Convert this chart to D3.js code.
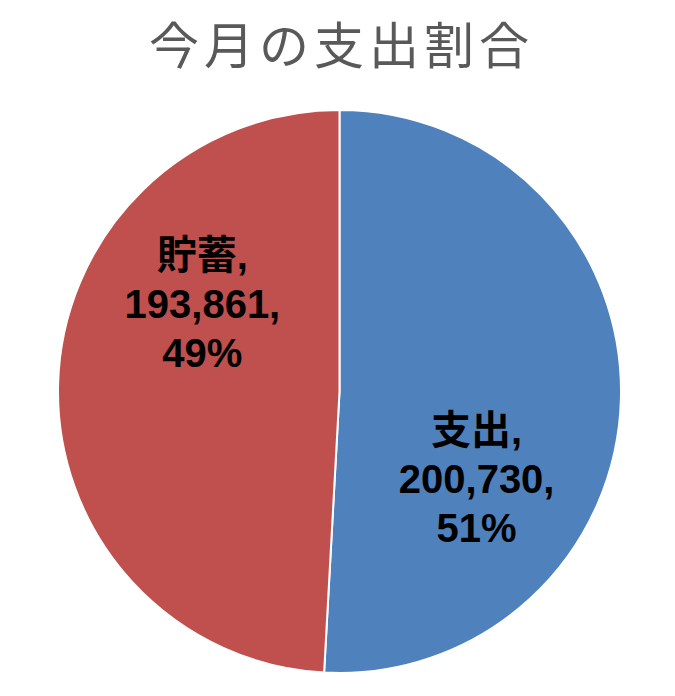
<!DOCTYPE html>
<html>
<head>
<meta charset="utf-8">
<script src="https://cdn.jsdelivr.net/npm/d3@7"></script>
<style>
  body { margin: 0; background: #fff; }
</style>
</head>
<body>
<div id="canvas"></div>
<script>
// chart data
var categories = ["支出", "貯蓄"];
var amounts = [200730, 193861];
var colors = ["#4F81BD", "#C0504D"];
var title = "今月の支出割合";

var width = 675, height = 696;
var cx = 339.5, cy = 391.5, radius = 281.5;

var svg = d3.select("#canvas").append("svg")
    .attr("width", width)
    .attr("height", height);

svg.append("text")
    .attr("x", cx + 2)
    .attr("y", 42)
    .attr("text-anchor", "middle")
    .attr("dominant-baseline", "central")
    .style("font-family", "'Noto Sans CJK JP', sans-serif")
    .style("font-size", "50px")
    .style("letter-spacing", "5px")
    .style("fill", "#595959")
    .text(title);

var data = categories.map(function(c, i) { return {name: c, value: amounts[i], color: colors[i]}; });
var total = d3.sum(amounts);

var pie = d3.pie()
    .sort(null)
    .value(function(d) { return d.value; });

var arc = d3.arc()
    .innerRadius(0)
    .outerRadius(radius);

var g = svg.append("g")
    .attr("transform", "translate(" + cx + "," + cy + ")");

var arcs = pie(data);

g.selectAll("path")
    .data(arcs)
  .enter().append("path")
    .attr("d", arc)
    .attr("fill", function(d) { return d.data.color; })
    .attr("stroke", "#fff")
    .attr("stroke-width", 2);

// labels sit a bit past the slice middle (excel "best fit")
var labelShift = 31 * Math.PI / 180,
    labelRadius = radius * 0.578,
    lineGap = 49;
var fmtNum = d3.format(","), fmtPct = d3.format(".0%");

var labels = g.selectAll("g.label")
    .data(arcs)
  .enter().append("g")
    .attr("class", "label")
    .attr("transform", function(d) {
      var a = (d.startAngle + d.endAngle) / 2 + labelShift;
      return "translate(" + (Math.sin(a) * labelRadius) + "," + (-Math.cos(a) * labelRadius) + ")";
    });

labels.each(function(d) {
  var lines = [d.data.name + ",", fmtNum(d.data.value) + ",", fmtPct(d.data.value / total)];
  d3.select(this).selectAll("text")
      .data(lines)
    .enter().append("text")
      .attr("x", 0)
      .attr("y", function(t, i) { return (i - 1) * lineGap + 14; })
      .attr("text-anchor", "middle")
      .style("font-family", "'Liberation Sans', 'Noto Sans CJK JP', sans-serif")
      .style("font-weight", "bold")
      .style("font-size", "40px")
      .style("fill", "#000")
      .text(function(t) { return t; });
});
</script>
</body>
</html>
